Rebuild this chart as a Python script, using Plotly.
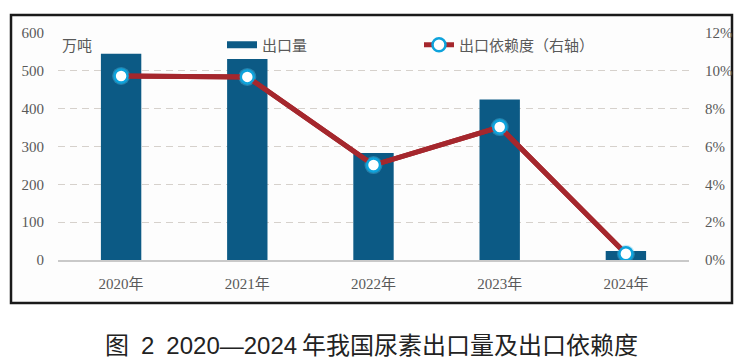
import plotly.graph_objects as go

years = ["2020年", "2021年", "2022年", "2023年", "2024年"]
export_volume = [545, 531, 283, 424, 24]          # 万吨
export_dependency = [9.73, 9.68, 5.02, 7.03, 0.33]  # %

left_ticks = [0, 100, 200, 300, 400, 500, 600]
right_ticks = [0, 2, 4, 6, 8, 10, 12]
right_tick_labels = [f"{v}%" for v in right_ticks]

caption = "图\u20022\u20022020—2024\u2009年我国尿素出口量及出口依赖度"

BAR_COLOR = "#0c5a85"
LINE_COLOR = "#a5272d"
MARKER_EDGE = "#0ea3dc"
TXT = "#595959"
FONT = "Liberation Serif, Noto Sans CJK SC, serif"
CAP_FONT = "Liberation Sans, Noto Sans CJK SC, sans-serif"

# page offset (browser body margin) and target pixel geometry
OFF = 8
W, H = 749 - OFF, 364 - OFF
L, R = 58, 689
T, B = 33, 260
pw, ph = R - L, B - T


def px_x(x):
    return (x - L) / pw


def px_y(y):
    return (B - y) / ph


fig = go.Figure()

fig.add_trace(go.Bar(
    x=years, y=export_volume, name="出口量",
    marker=dict(color=BAR_COLOR, line=dict(width=0)),
    width=0.32, showlegend=False, yaxis="y",
))
# legend proxy for bars (flat wide swatch)
fig.add_trace(go.Scatter(
    x=[None], y=[None], mode="lines", name="出口量",
    line=dict(color=BAR_COLOR, width=7), legend="legend",
))
fig.add_trace(go.Scatter(
    x=years, y=export_dependency, name="出口依赖度（右轴）",
    mode="lines", yaxis="y2",
    line=dict(color=LINE_COLOR, width=5),
    showlegend=False, hoverinfo="skip",
))
# soft halo under markers
fig.add_trace(go.Scatter(
    x=years, y=export_dependency, mode="markers", yaxis="y2",
    marker=dict(size=18, color="rgba(90,200,240,0.35)", line=dict(width=0)),
    showlegend=False, hoverinfo="skip",
))
fig.add_trace(go.Scatter(
    x=years, y=export_dependency, name="出口依赖度（右轴）",
    mode="lines+markers", yaxis="y2",
    line=dict(color=LINE_COLOR, width=5),
    marker=dict(symbol="circle", size=13, color="white",
                line=dict(color=MARKER_EDGE, width=2.5)),
    legend="legend2",
))

fig.update_layout(
    width=W, height=H,
    margin=dict(l=L - OFF, r=(W + OFF) - R, t=T - OFF, b=(H + OFF) - B),
    paper_bgcolor="white",
    plot_bgcolor="rgba(0,0,0,0)",
    font=dict(family=FONT, size=15, color=TXT),
    xaxis=dict(
        type="category", showgrid=False, showline=True,
        linecolor="#c9c9c9", linewidth=1.5, ticks="",
        tickfont=dict(family=FONT, size=15, color=TXT),
        ticklabelstandoff=9,
    ),
    yaxis=dict(
        range=[0, 600], tickvals=left_ticks, showgrid=True,
        gridcolor="#d6d1cc", griddash="7px,5px", gridwidth=1,
        zeroline=False, showline=False, ticks="",
        tickfont=dict(family=FONT, size=15, color=TXT),
        ticklabelstandoff=13,
    ),
    yaxis2=dict(
        range=[0, 12], tickvals=right_ticks, ticktext=right_tick_labels,
        overlaying="y", side="right", showgrid=False, zeroline=False,
        showline=False, ticks="",
        tickfont=dict(family=FONT, size=15, color=TXT),
        ticklabelstandoff=15,
    ),
    legend=dict(
        x=px_x(222), y=px_y(45), xanchor="left", yanchor="middle",
        orientation="h", bgcolor="rgba(0,0,0,0)",
        font=dict(family=FONT, size=15, color=TXT),
    ),
    legend2=dict(
        x=px_x(419), y=px_y(45), xanchor="left", yanchor="middle",
        orientation="h", bgcolor="rgba(0,0,0,0)",
        font=dict(family=FONT, size=15, color=TXT),
    ),
    shapes=[dict(
        type="rect", xref="paper", yref="paper",
        x0=px_x(11), x1=px_x(732), y0=px_y(303), y1=px_y(15),
        line=dict(color="#1a1a1a", width=2.5), fillcolor="#fdfdfd",
        layer="below",
    )],
    annotations=[
        dict(text="万吨", xref="paper", yref="paper", x=px_x(60), y=px_y(46),
             xanchor="left", yanchor="middle", showarrow=False,
             font=dict(family=FONT, size=15, color=TXT)),
        dict(text=caption, xref="paper", yref="paper",
             x=px_x(103), y=px_y(345),
             xanchor="left", yanchor="middle", showarrow=False,
             font=dict(family=CAP_FONT, size=24, color="#222222")),
    ],
)

fig.write_html("out.html")
